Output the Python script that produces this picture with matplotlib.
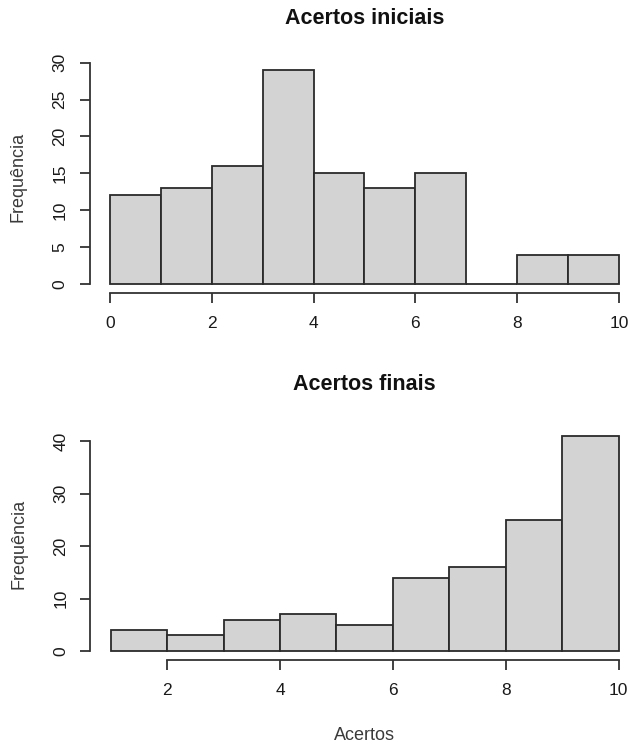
import numpy as np
import matplotlib
matplotlib.use("Agg")
import matplotlib.pyplot as plt

plt.rcParams['font.family'] = ['Liberation Sans', 'DejaVu Sans']

# Data
bins_ini = [0, 1, 2, 3, 4, 5, 6, 7, 8, 9, 10]
counts_ini = [12, 13, 16, 29, 15, 13, 15, 0, 4, 4]
bins_fin = [1, 2, 3, 4, 5, 6, 7, 8, 9, 10]
counts_fin = [4, 3, 6, 7, 5, 14, 16, 25, 41]
xticks_ini = [0, 2, 4, 6, 8, 10]
yticks_ini = [0, 5, 10, 15, 20, 25, 30]
xticks_fin = [2, 4, 6, 8, 10]
yticks_fin = [0, 10, 20, 30, 40]
title_ini = "Acertos iniciais"
title_fin = "Acertos finais"
ylabel = "Frequência"
xlabel = "Acertos"

W, H = 629, 746
fig = plt.figure(figsize=(W / 100, H / 100), dpi=100)

fill = '#D3D3D3'
edge = '#2a2a2a'
axcol = '#333333'
txtcol = '#1a1a1a'
labcol = '#3a3a3a'


def px_axes(left, right, top, bottom):
    return [left / W, 1 - bottom / H, (right - left) / W, (bottom - top) / H]


def r_lim(lo, hi):
    d = (hi - lo) * 0.04
    return lo - d, hi + d


def hist(ax, bins, counts, xticks, yticks, title, title_y, xlab=None):
    edges = np.array(bins, dtype=float)
    ax.bar(edges[:-1], counts, width=np.diff(edges), align='edge',
           color=fill, edgecolor=edge, linewidth=1.3)
    ax.set_xlim(*r_lim(edges[0], edges[-1]))
    ax.set_ylim(*r_lim(0, max(counts)))
    for s in ['top', 'right']:
        ax.spines[s].set_visible(False)
    for s in ['left', 'bottom']:
        ax.spines[s].set_color(axcol)
        ax.spines[s].set_linewidth(1.3)
    ax.spines['left'].set_bounds(yticks[0], yticks[-1])
    ax.spines['bottom'].set_bounds(xticks[0], xticks[-1])
    ax.set_xticks(xticks)
    ax.set_yticks(yticks)
    ax.tick_params(axis='both', direction='out', length=7, width=1.3,
                   color=axcol, labelsize=12.5, labelcolor=txtcol)
    ax.tick_params(axis='x', pad=10)
    ax.tick_params(axis='y', labelrotation=90, pad=9)
    for lab in ax.get_yticklabels():
        lab.set_va('center')
    ax.text(0.5, title_y, title, transform=ax.transAxes, ha='center',
            va='center', fontsize=15.5, fontweight='bold', color='#111111')
    ax.set_ylabel(ylabel, fontsize=13, color=labcol)
    ax.yaxis.set_label_coords(-0.115, 0.5)
    if xlab:
        ax.text(0.5, -0.325, xlab, transform=ax.transAxes, ha='center',
                va='center', fontsize=13, color=labcol)


ax1 = fig.add_axes(px_axes(89.6, 639.4, 61.5, 292.6))
hist(ax1, bins_ini, counts_ini, xticks_ini, yticks_ini, title_ini, 1.188)

ax2 = fig.add_axes(px_axes(90.4, 639.0, 427.4, 659.6))
hist(ax2, bins_fin, counts_fin, xticks_fin, yticks_fin, title_fin, 1.183, xlabel)

fig.savefig('out.png', dpi=100, facecolor='white')
